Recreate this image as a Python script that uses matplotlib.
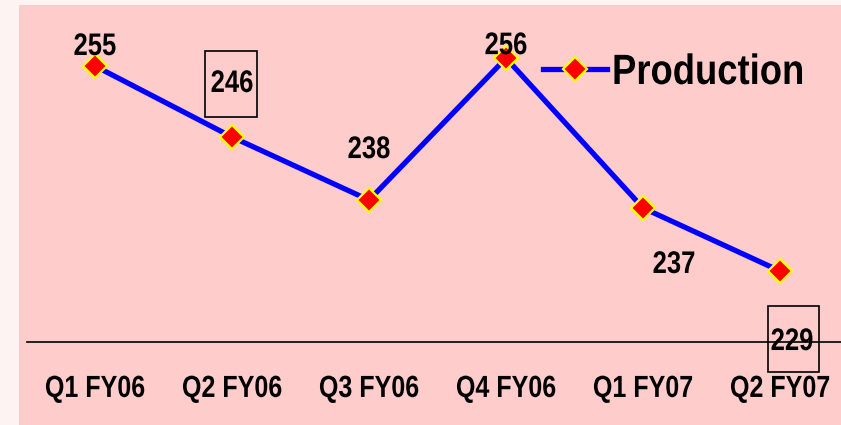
import matplotlib
matplotlib.use("Agg")
import matplotlib.pyplot as plt
import matplotlib.transforms as mtransforms
from matplotlib import patheffects
from matplotlib.patches import Rectangle

quarters = ["Q1 FY06", "Q2 FY06", "Q3 FY06", "Q4 FY06", "Q1 FY07", "Q2 FY07"]
production = [255, 246, 238, 256, 237, 229]

# label offsets from each point, in pixels (dx, dy with y up)
label_offsets = [(0, 19), (0, 53), (0, 50), (0, 12), (31, -57), (12, -71)]
boxed = [False, True, False, False, False, True]
# box around the label relative to the point, in inches: (x0, y0, w, h)
box_geom = {1: (-0.27, 0.20, 0.52, 0.66), 5: (-0.12, -1.01, 0.51, 0.66)}


class Narrow(patheffects.AbstractPathEffect):
    """Squeeze text horizontally (the original uses an Arial Narrow-like face)."""

    def __init__(self, sx=0.82, anchor="center"):
        super().__init__()
        self.sx = sx
        self.anchor = anchor

    def draw_path(self, renderer, gc, tpath, affine, rgbFace=None):
        ext = tpath.get_extents()
        cx = ext.x0 if self.anchor == "left" else (ext.x0 + ext.x1) / 2
        squeeze = mtransforms.Affine2D().translate(-cx, 0).scale(self.sx, 1).translate(cx, 0)
        renderer.draw_path(gc, tpath, squeeze + affine, rgbFace)


FONT = ["Liberation Sans", "DejaVu Sans"]
plt.rcParams["font.family"] = FONT
plt.rcParams["font.weight"] = "bold"

W, H = 841, 425
fig = plt.figure(figsize=(W / 100, H / 100), dpi=100)
fig.patch.set_facecolor("#fdf3f3")
bg = Rectangle((19 / W, 0), 1 - 19 / W, 1 - 5 / H, transform=fig.transFigure,
               facecolor="#ffcccc", edgecolor="none", zorder=-10)
fig.add_artist(bg)

ax = fig.add_axes([26.5 / W, 1 - 342 / H, (W - 26.5) / W, (342 - 5) / H])
ax.set_facecolor("none")
x = list(range(len(quarters)))
ax.plot(x, production, "-D", color="#0000ff", lw=3.8, ms=12,
        mfc="#ff0000", mec="#ffff00", mew=1.6, label="Production",
        clip_on=False, zorder=3)

for i, v in enumerate(production):
    dx, dy = label_offsets[i]
    ax.annotate(str(v), xy=(i, v), xytext=(dx * 0.72, dy * 0.72),
                textcoords="offset points", ha="center", va="center",
                fontsize=22.5, fontweight="bold", zorder=4,
                path_effects=[Narrow()])
    if boxed[i]:
        bx, by, bw, bh = box_geom[i]
        tr = fig.dpi_scale_trans + mtransforms.ScaledTranslation(i, v, ax.transData)
        ax.add_patch(Rectangle((bx, by), bw, bh, transform=tr, fill=False,
                               edgecolor="black", lw=1.2, clip_on=False, zorder=4))

ax.set_xlim(-0.5, 5.445)
ax.set_ylim(220, 220 + 337 / 7.885)
ax.set_xticks(x)
ax.set_xticklabels(quarters, fontsize=22, fontweight="bold")
for t in ax.get_xticklabels():
    t.set_path_effects([Narrow()])
ax.tick_params(axis="x", length=0, pad=23)
ax.set_yticks([])
for s in ("top", "right", "left"):
    ax.spines[s].set_visible(False)
ax.spines["bottom"].set_linewidth(1.2)
ax.spines["bottom"].set_color("black")

leg = ax.legend(loc="center left", bbox_to_anchor=(543 / W, 1 - 73 / H),
                bbox_transform=fig.transFigure, frameon=False,
                borderpad=0, borderaxespad=0, handlelength=1.5, handletextpad=0.12,
                prop={"family": FONT, "weight": "bold", "size": 30.5})
for t in leg.get_texts():
    t.set_path_effects([Narrow(sx=0.86, anchor="left")])

fig.savefig("out.png", dpi=100, facecolor=fig.get_facecolor())
